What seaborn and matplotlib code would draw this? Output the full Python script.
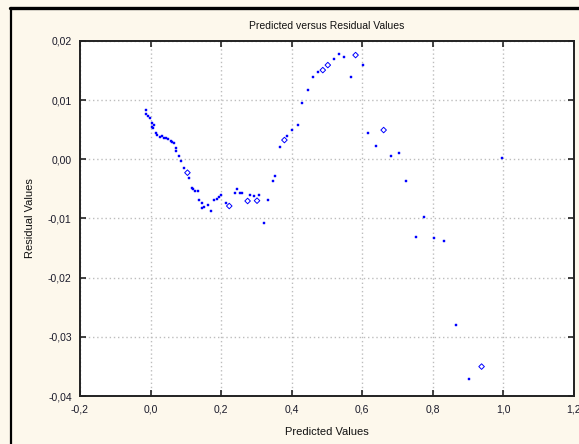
import matplotlib
matplotlib.use("Agg")
import matplotlib.pyplot as plt
from matplotlib.lines import Line2D
import seaborn as sns
import pandas as pd

# Predicted values and their residuals
predicted = [
    -0.0136, -0.0119, -0.0071, -0.0023, 0.0051, 0.0099, 0.0034, 0.0071, 0.0148, 0.0193,
    0.0261, 0.0318, 0.0384, 0.0449, 0.0506, 0.0574, 0.0619, 0.0668, 0.0716, 0.0733,
    0.0810, 0.0866, 0.0952, 0.1045, 0.1094, 0.1170, 0.1207, 0.1264, 0.1330, 0.1378,
    0.1455, 0.1455, 0.1520, 0.1614, 0.1710, 0.1804, 0.1869, 0.1946, 0.1994, 0.2136,
    0.2230, 0.2401, 0.2438, 0.2543, 0.2591, 0.2750, 0.2818, 0.2940, 0.3017, 0.3082,
    0.3318, 0.3224, 0.3460, 0.3537, 0.3670, 0.3793, 0.3869, 0.4011, 0.4170, 0.4295,
    0.4455, 0.4597, 0.4739, 0.4881, 0.5023, 0.5185, 0.5327, 0.5469, 0.5668, 0.5810,
    0.6017, 0.6159, 0.6398, 0.6605, 0.6824, 0.7031, 0.7250, 0.7741, 0.7534, 0.8026,
    0.8318, 0.9949, 0.8670, 0.9381, 0.9028,
]
residual = [
    0.00833, 0.00765, 0.00731, 0.00693, 0.00608, 0.00580, 0.00541, 0.00524, 0.00439, 0.00410,
    0.00382, 0.00394, 0.00365, 0.00365, 0.00338, 0.00314, 0.00297, 0.00280, 0.00186, 0.00145,
    0.00061, -0.00024, -0.00152, -0.00226, -0.00321, -0.00480, -0.00507, -0.00530, -0.00530, -0.00688,
    -0.00743, -0.00828, -0.00801, -0.00772, -0.00868, -0.00688, -0.00676, -0.00632, -0.00603, -0.00743,
    -0.00789, -0.00574, -0.00497, -0.00574, -0.00574, -0.00704, -0.00603, -0.00620, -0.00699, -0.00608,
    -0.00688, -0.01081, -0.00361, -0.00282, 0.00203, 0.00326, 0.00399, 0.00495, 0.00579, 0.00946,
    0.01171, 0.01385, 0.01470, 0.01508, 0.01593, 0.01689, 0.01774, 0.01723, 0.01385, 0.01762,
    0.01593, 0.00449, 0.00225, 0.00495, 0.00061, 0.00111, -0.00361, -0.00970, -0.01307, -0.01334,
    -0.01385, 0.00027, -0.02799, -0.03503, -0.03716,
]
# indices of observations drawn with an open marker
open_idx = [23, 40, 45, 48, 55, 63, 64, 69, 73, 83]

x_ticks = [-0.2, 0.0, 0.2, 0.4, 0.6, 0.8, 1.0, 1.2]
x_tick_labels = ["-0,2", "0,0", "0,2", "0,4", "0,6", "0,8", "1,0", "1,2"]
y_ticks = [-0.04, -0.03, -0.02, -0.01, 0.00, 0.01, 0.02]
y_tick_labels = ["-0,04", "-0,03", "-0,02", "-0,01", "0,00", "0,01", "0,02"]

df = pd.DataFrame({"predicted": predicted, "residual": residual})
df["open"] = [i in open_idx for i in range(len(df))]

sns.set_style("white")
plt.rcParams["font.family"] = ["Liberation Sans", "DejaVu Sans"]

fig = plt.figure(figsize=(5.79, 4.44), dpi=100)
fig.patch.set_facecolor("#fdf8ec")
ax = fig.add_axes([80 / 579, 1 - 396 / 444, 494 / 579, 355 / 444])
ax.set_facecolor("white")

solid = df[~df["open"]]
hollow = df[df["open"]]
sns.scatterplot(data=solid, x="predicted", y="residual", ax=ax, marker="s",
                s=4, color="#0000ff", edgecolor="#0000ff", linewidth=0.3, legend=False)
sns.scatterplot(data=hollow, x="predicted", y="residual", ax=ax, marker="D",
                s=8, facecolor="none", edgecolor="#0000ff", linewidth=0.7, legend=False)

ax.set_xlim(-0.2, 1.2)
ax.set_ylim(-0.04, 0.02)
ax.set_xticks(x_ticks)
ax.set_xticklabels(x_tick_labels)
ax.set_yticks(y_ticks)
ax.set_yticklabels(y_tick_labels)
ax.set_xlabel("")
ax.set_ylabel("")

ax.grid(True, color="#bdbdbd", linestyle=(0, (1, 2)), linewidth=1.0)
ax.tick_params(axis="both", which="major", direction="in", length=4, width=1.2,
               color="#222222", labelsize=7.5, labelcolor="#1a1a2a",
               top=True, right=True, bottom=True, left=True)
ax.tick_params(axis="x", pad=6)
ax.tick_params(axis="y", pad=6)
for sp in ax.spines.values():
    sp.set_visible(True)
    sp.set_color("#222222")
    sp.set_linewidth(1.4)

fig.text(327 / 579, 1 - 26 / 444, "Predicted versus Residual Values",
         ha="center", va="center", fontsize=7.5, color="#111111")
fig.text(327 / 579, 1 - 432 / 444, "Predicted Values",
         ha="center", va="center", fontsize=8, color="#111111")
fig.text(30 / 579, 1 - 218 / 444, "Residual Values", rotation=90,
         ha="center", va="center", fontsize=8, color="#111111")

# outer panel frame (left and top edges)
fig.add_artist(Line2D([11 / 579, 11 / 579], [0, 1 - 8 / 444], transform=fig.transFigure,
                      color="black", linewidth=1.6))
fig.add_artist(Line2D([10 / 579, 1], [1 - 8.5 / 444, 1 - 8.5 / 444], transform=fig.transFigure,
                      color="black", linewidth=2.4))

fig.savefig("out.png", dpi=100, facecolor=fig.get_facecolor())
